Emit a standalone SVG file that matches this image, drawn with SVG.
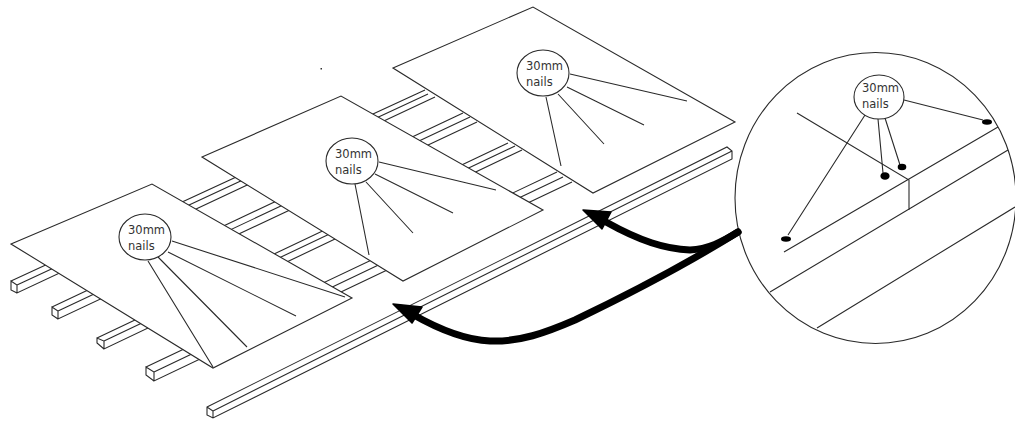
<svg xmlns="http://www.w3.org/2000/svg" width="1015" height="422" viewBox="0 0 1015 422">
<style>
.l{fill:none;stroke:#2a2a2a;stroke-width:1.1}
.s{fill:#fff;stroke:#2a2a2a;stroke-width:1.1}
.t{font-family:"DejaVu Sans",sans-serif;font-size:11.5px;fill:#333}
.a{fill:none;stroke:#000;stroke-width:7;stroke-linecap:round}
.h{fill:#000;stroke:#000;stroke-width:1.5;stroke-linejoin:round}
</style>
<rect width="1015" height="422" fill="#fff"/>
<g id="rail"><path class="l" d="M207 407L727 147L732 151L732 159L213 418L207 415ZM207 407L213 411L213 418M213 411L732 151"/></g>
<g id="joists">
<path id="joist-a" class="l" d="M17 293L11 290L11 281L17 285L17 293L435 97M17 285L428 94M11 281L425 90"/>
<path id="joist-b" class="l" d="M58 319L52 315L52 307L58 311L58 319L477 122M58 311L470 117M52 307L463 113"/>
<path id="joist-c" class="l" d="M104 349L97 343L97 338L104 341L104 349L522 150M104 341L515 146M97 338L508 143"/>
<path id="joist-d" class="l" d="M154 381L146 375L146 367L154 372L154 381L572 182M154 372L563 177M146 367L557 172"/>
</g>
<g id="sheet-3">
<polygon class="s" points="393,68 533,7 735,122 593,193"/>
<path class="l" d="M570 74L687 101M567 87L644 125M558 94L604 144M546 97L561 166"/>
<ellipse class="s" cx="543" cy="73" rx="26" ry="23"/>
<text class="t" x="526" y="70">30mm</text><text class="t" x="526" y="86">nails</text>
</g>
<g id="sheet-2">
<polygon class="s" points="202,157 341,96 543,210 403,281"/>
<path class="l" d="M379 162L496 190M375 174L453 213M366 182L413 233M355 184L369 255"/>
<ellipse class="s" cx="352" cy="161" rx="26" ry="23"/>
<text class="t" x="335" y="158">30mm</text><text class="t" x="335" y="174">nails</text>
</g>
<g id="sheet-1">
<polygon class="s" points="11,244 152,184 352,298 213,368"/>
<path class="l" d="M172 241L345 297M168 252L296 316M158 257L247 347M148 261L213 367"/>
<ellipse class="s" cx="145" cy="237" rx="26" ry="23"/>
<text class="t" x="128" y="234">30mm</text><text class="t" x="128" y="250">nails</text>
</g>
<g id="detail">
<ellipse class="s" cx="875.5" cy="198" rx="140.5" ry="145.500"/>
<path class="l" d="M797 113L909 180L909 210M784 252L998 127M770 292L1008 150M817 328L1015 207"/>
<path class="l" d="M904 100L983 120M885 118L900 165M878 119L883 173M865 115L788 235"/>
<ellipse cx="987" cy="122" rx="5" ry="2.8"/>
<ellipse cx="902" cy="167" rx="4.3" ry="3.3"/>
<ellipse cx="885" cy="176" rx="4.6" ry="3.8"/>
<ellipse cx="786" cy="239" rx="5" ry="2.8"/>
<ellipse class="s" cx="879" cy="97" rx="25" ry="22"/>
<text class="t" x="862" y="92">30mm</text><text class="t" x="862" y="108">nails</text>
</g>
<g id="connectors">
<path class="a" d="M738 232C722 242 708 249 690 250C665 249 640 241 606 222"/>
<polygon class="h" points="583,210 611,212 602,229"/>
<path class="a" d="M738 232C690 262 625 296 575 320C545 333 520 342 490 341C465 340 440 330 412 314"/>
<polygon class="h" points="393,304 422,307 412,323"/>
</g>
<rect id="speck" x="320.500" y="68" width="1.500" height="1.500" fill="#333"/>
</svg>
